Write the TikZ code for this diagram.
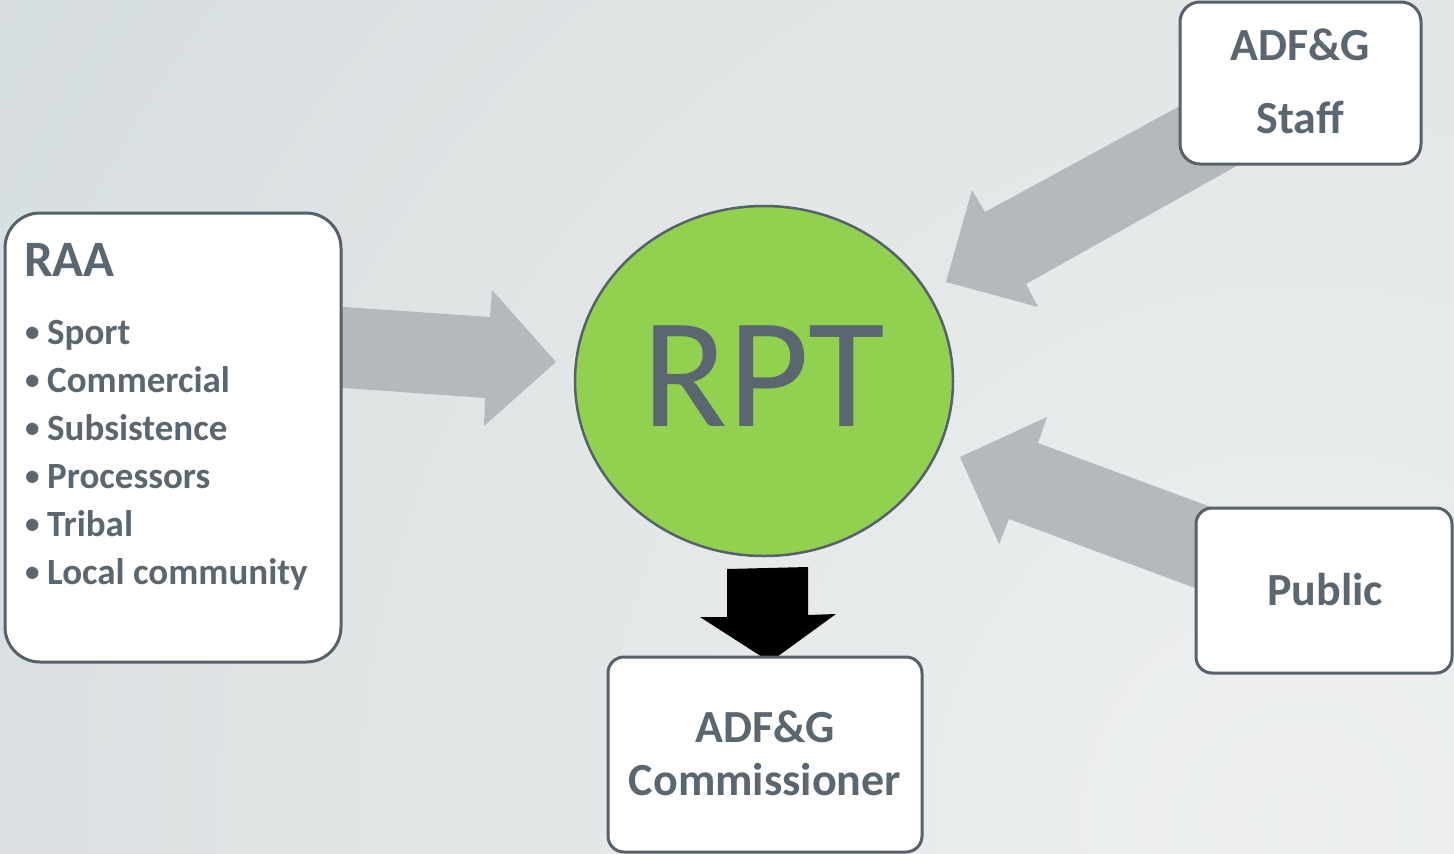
\documentclass[tikz,border=0pt]{standalone}
\usepackage{fontspec}
\setmainfont{Carlito}
\usetikzlibrary{shapes.geometric}
\definecolor{txt}{HTML}{5A6670}
\definecolor{edge}{HTML}{56616B}
\definecolor{garrow}{HTML}{B5B9BC}
\definecolor{rptgreen}{HTML}{92D050}
\definecolor{bgin}{HTML}{EEF0F0}
\definecolor{bgout}{HTML}{CBD4D6}
\newcommand{\itembullet}{\makebox[22pt][l]{\raisebox{3pt}{\fontsize{29}{30}\selectfont •}}}
\begin{document}
\begin{tikzpicture}[x=1pt,y=-1pt,
  box/.style={draw=edge, line width=3pt, fill=white, inner sep=0pt},
  lbl/.style={text=txt, font=\fontsize{46}{50}\selectfont\bfseries, inner sep=0pt, anchor=base},
  itm/.style={text=txt, font=\fontsize{37}{40}\selectfont\bfseries, inner sep=0pt, anchor=base west},
  blockarrow/.style={fill=garrow, draw=none}]
\useasboundingbox (0,0) rectangle (1454,854);
\begin{scope}
  \clip (0,0) rectangle (1454,854);
  \shade[inner color=bgin, outer color=bgout] (1300,820) circle (2300pt);
\end{scope}

% named anchor points for the block arrows
\coordinate (l1) at (330,306);
\coordinate (s1) at (1200,95);
\coordinate (p1) at (1230,514);

% grey block arrows (drawn under the boxes)
\fill[blockarrow] (l1) -- (490,317) -- (492,290) -- (556,362) -- (484,426) -- (485,398) -- (330,387) -- cycle;
\fill[blockarrow] (s1) -- (985,212) -- (972,190) -- (946,282) -- (1038,307) -- (1026,284) -- (1265,150) -- cycle;
\fill[blockarrow] (p1) -- (1038,443) -- (1047,417) -- (960,457) -- (999,544) -- (1009,519) -- (1230,601) -- cycle;

% black arrow RPT -> Commissioner
\fill[black] (727,569) -- (808,567) -- (808,615) -- (836,614) -- (770,662) -- (700,617) -- (727,617) -- cycle;

% boxes
\node[box, rounded corners=35pt, minimum width=336pt, minimum height=449pt] (raa) at (173,437.5) {};
\node[box, rounded corners=20pt, minimum width=241pt, minimum height=162pt] (staff) at (1300.5,83) {};
\node[box, rounded corners=16pt, minimum width=256pt, minimum height=165pt] (public) at (1324,590.5) {};
\node[box, rounded corners=16pt, minimum width=314pt, minimum height=195pt] (comm) at (765,754.5) {};

% RPT ellipse
\node[ellipse, draw=edge, line width=2.5pt, fill=rptgreen, minimum width=378pt, minimum height=350pt, inner sep=0pt,
      text=txt, font=\fontsize{157}{160}\selectfont, text depth=10pt] (rpt) at (764,381) {RPT};

% texts
\node[itm, font=\fontsize{51}{55}\selectfont\bfseries] (raat) at (24,276) {RAA};
\node[itm] (i1) at (25,344) {\itembullet Sport};
\node[itm] (i2) at (25,392) {\itembullet Commercial};
\node[itm] (i3) at (25,440) {\itembullet Subsistence};
\node[itm] (i4) at (25,488) {\itembullet Processors};
\node[itm] (i5) at (25,536) {\itembullet Tribal};
\node[itm] (i6) at (25,584) {\itembullet Local community};

\node[lbl] (st1) at (1300,60) {ADF\&G};
\node[lbl] (st2) at (1300,133) {Staff};
\node[lbl] (pub) at (1325,605) {Public};
\node[lbl] (c1) at (765,742) {ADF\&G};
\node[lbl] (c2) at (765,795) {Commissioner};
\end{tikzpicture}
\end{document}
